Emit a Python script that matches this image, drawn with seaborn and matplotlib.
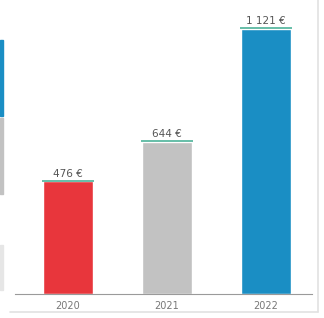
import matplotlib
matplotlib.use("Agg")
import matplotlib.pyplot as plt
import seaborn as sns
import pandas as pd
from matplotlib.patches import Rectangle
from matplotlib.lines import Line2D

years = ["2020", "2021", "2022"]
values = [476, 644, 1121]
labels = ["476 €", "644 €", "1 121 €"]
colors = ["#E8363C", "#C2C2C2", "#1A8EC4"]

df = pd.DataFrame({"year": years, "value": values})

sns.set_style("white")
plt.rcParams["font.family"] = ["DejaVu Sans"]

fig = plt.figure(figsize=(3.24, 3.18), dpi=100)
ax = fig.add_axes([15 / 324, 24 / 318, 297 / 324, 284 / 318])

sns.barplot(data=df, x="year", y="value", hue="year", palette=colors,
            width=0.5, legend=False, ax=ax, saturation=1)

ax.set_xlim(-0.535, 2.465)
ax.set_ylim(0, 1201)

# thin teal line on top of each bar + value label
for i, (v, lab) in enumerate(zip(values, labels)):
    ax.plot([i - 0.265, i + 0.265], [v + 2, v + 2], color="#4DB39A", lw=1.2,
            solid_capstyle="butt")
    ax.text(i, v + 12, lab, ha="center", va="bottom", fontsize=7.5,
            color="#555555")

for s in ["top", "right", "left"]:
    ax.spines[s].set_visible(False)
ax.spines["bottom"].set_color("#9A9A9A")
ax.spines["bottom"].set_linewidth(0.8)
ax.set_yticks([])
ax.set_xlabel("")
ax.set_ylabel("")
ax.tick_params(axis="x", length=0, labelsize=7, labelcolor="#777777", pad=5)

# cut-off legend strips at the left edge
fig.patches.append(Rectangle((0, 1 - 116 / 318), 3 / 324, 76 / 318,
                             transform=fig.transFigure, color="#1A8EC4"))
fig.patches.append(Rectangle((0, 1 - 194 / 318), 3 / 324, 76 / 318,
                             transform=fig.transFigure, color="#C2C2C2"))
fig.patches.append(Rectangle((0, 1 - 290 / 318), 3 / 324, 45 / 318,
                             transform=fig.transFigure, color="#E6E6E6"))

# faint card border right/bottom
fig.lines.append(Line2D([318 / 324, 318 / 324], [6 / 318, 1], transform=fig.transFigure,
                        color="#E2E2E2", lw=1.2))
fig.lines.append(Line2D([10 / 324, 318 / 324], [6 / 318, 6 / 318], transform=fig.transFigure,
                        color="#E2E2E2", lw=1.2))

fig.savefig("out.png", dpi=100)
